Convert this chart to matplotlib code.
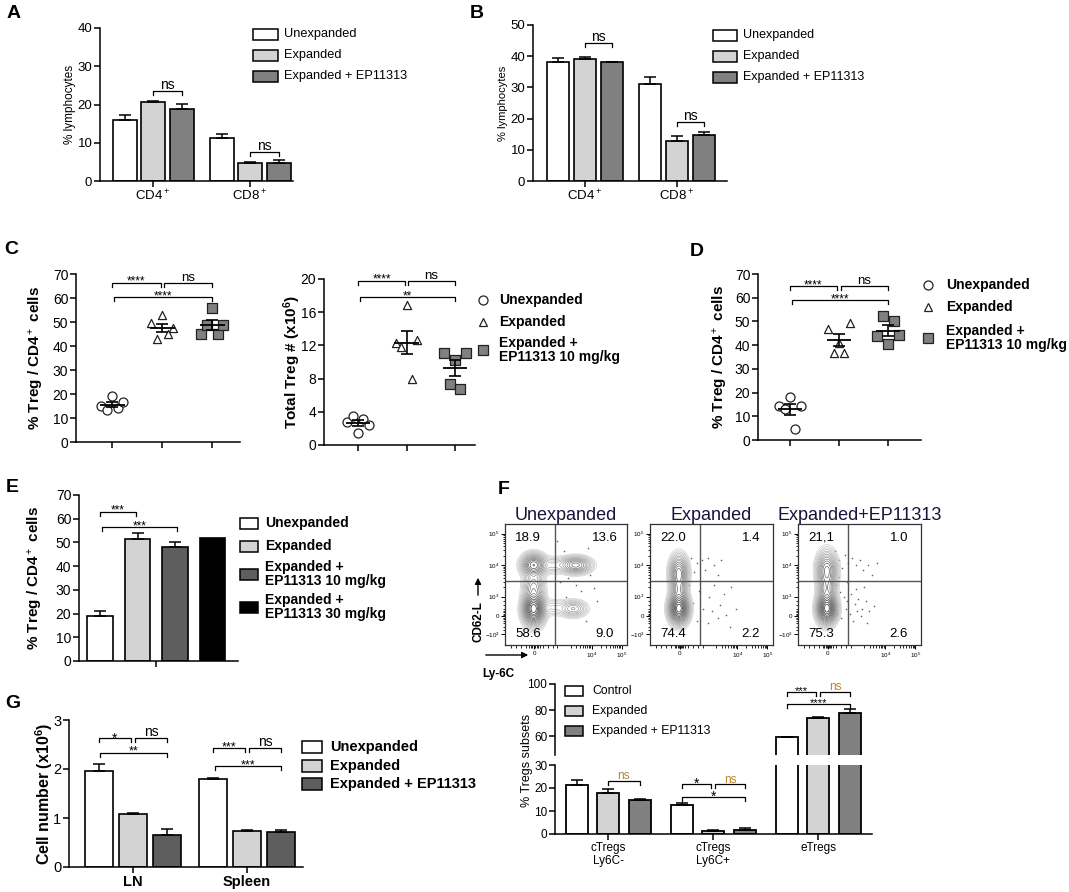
"""
Multi-panel Treg figure (A-G): bar charts, dot plots, flow contour panels.
"""
import numpy as np
import matplotlib
matplotlib.use("Agg")
import matplotlib.pyplot as plt
from matplotlib.patches import Rectangle

plt.rcParams["font.family"] = ["Liberation Sans", "DejaVu Sans"]
plt.rcParams["mathtext.fontset"] = "custom"
plt.rcParams["mathtext.rm"] = "Liberation Sans"
plt.rcParams["mathtext.bf"] = "Liberation Sans:bold"
plt.rcParams["mathtext.it"] = "Liberation Sans:italic"

W, H = 1069, 892

WHITE = "white"
LIGHT = "#d3d3d3"
MID = "#808080"
DARK = "#5e5e5e"
NS_COL = "#b8862b"

# ---------------- data ----------------
A_cats = ["CD4$^+$", "CD8$^+$"]
A_unexp = [16.0, 11.3]
A_unexp_sem = [1.2, 0.9]
A_exp = [20.7, 4.8]
A_exp_sem = [0.3, 0.2]
A_ep = [18.8, 4.8]
A_ep_sem = [1.3, 0.7]

B_cats = ["CD4$^+$", "CD8$^+$"]
B_unexp = [38.0, 31.2]
B_unexp_sem = [1.5, 2.2]
B_exp = [39.2, 12.8]
B_exp_sem = [0.6, 1.5]
B_ep = [38.0, 14.8]
B_ep_sem = [0.2, 0.8]

C_pct_unexp = [15.2, 13.3, 19.0, 14.0, 16.5]
C_pct_exp = [49.5, 43.0, 52.8, 45.0, 47.5]
C_pct_ep = [45.0, 48.6, 56.0, 45.0, 48.6]
C_tot_unexp = [2.8, 3.5, 1.5, 3.1, 2.4]
C_tot_exp = [12.3, 11.8, 16.9, 8.0, 12.6]
C_tot_ep = [11.1, 7.3, 10.2, 6.8, 11.1]

D_unexp = [14.5, 13.0, 18.3, 4.8, 14.3]
D_exp = [47.0, 36.5, 41.0, 36.5, 49.5]
D_ep = [43.7, 52.2, 40.3, 50.0, 44.4]

E_labels = ["Unexpanded", "Expanded", "Expanded +\nEP11313 10 mg/kg", "Expanded +\nEP11313 30 mg/kg"]
E_vals = [19.0, 51.3, 48.0, 52.0]
E_sem = [2.2, 2.7, 2.2, 0.0]

F_cats = ["cTregs\nLy6C-", "cTregs\nLy6C+", "eTregs"]
F_control = [21.3, 12.8, 59.0]
F_control_sem = [2.3, 0.5, 0.0]
F_exp = [17.8, 1.5, 74.1]
F_exp_sem = [1.8, 0.3, 0.8]
F_ep = [15.0, 1.6, 77.5]
F_ep_sem = [0.4, 0.8, 3.0]

G_cats = ["LN", "Spleen"]
G_unexp = [1.95, 1.79]
G_unexp_sem = [0.15, 0.02]
G_exp = [1.08, 0.74]
G_exp_sem = [0.02, 0.02]
G_ep = [0.66, 0.71]
G_ep_sem = [0.12, 0.04]

# flow panels: quadrant labels (UL, UR, LL, LR)
FLOW_TITLES = ["Unexpanded", "Expanded", "Expanded+EP11313"]
FLOW_QUAD_UNEXP = ["18.9", "13.6", "58.6", "9.0"]
FLOW_QUAD_EXP = ["22.0", "1.4", "74.4", "2.2"]
FLOW_QUAD_EP = ["21,1", "1.0", "75.3", "2.6"]
# population blobs (x, y, sx, sy, weight) in display fraction
CLUST_UNEXP = [(0.235, 0.30, 0.042, 0.065, 1.0), (0.235, 0.66, 0.048, 0.045, 0.55),
               (0.235, 0.48, 0.042, 0.065, 0.22), (0.58, 0.66, 0.062, 0.034, 0.35),
               (0.56, 0.30, 0.055, 0.034, 0.16), (0.40, 0.66, 0.070, 0.035, 0.07),
               (0.40, 0.31, 0.065, 0.035, 0.05)]
CLUST_EXP = [(0.235, 0.30, 0.038, 0.060, 1.0), (0.235, 0.60, 0.036, 0.070, 0.42),
             (0.235, 0.45, 0.034, 0.080, 0.26)]
CLUST_EP = [(0.235, 0.30, 0.038, 0.060, 1.0), (0.235, 0.62, 0.040, 0.075, 0.42),
            (0.235, 0.45, 0.036, 0.080, 0.26)]
DOTS_UNEXP_X = [0.48, 0.52, 0.62, 0.70, 0.75, 0.66, 0.45, 0.58, 0.43, 0.68, 0.50, 0.73]
DOTS_UNEXP_Y = [0.78, 0.55, 0.45, 0.58, 0.36, 0.20, 0.52, 0.50, 0.86, 0.80, 0.40, 0.47]
DOTS_EXP_X = [0.33, 0.38, 0.42, 0.47, 0.52, 0.58, 0.36, 0.45, 0.55, 0.40, 0.48, 0.60, 0.66,
              0.35, 0.43, 0.50, 0.57, 0.62, 0.70, 0.38, 0.47, 0.55, 0.65, 0.32, 0.52]
DOTS_EXP_Y = [0.72, 0.68, 0.70, 0.72, 0.66, 0.70, 0.60, 0.62, 0.58, 0.45, 0.40, 0.42, 0.48,
              0.35, 0.30, 0.28, 0.33, 0.25, 0.30, 0.20, 0.18, 0.22, 0.15, 0.50, 0.50]
DOTS_EP_X = [0.30, 0.33, 0.36, 0.38, 0.41, 0.44, 0.47, 0.50, 0.53, 0.57, 0.60, 0.64,
             0.31, 0.34, 0.37, 0.40, 0.43, 0.46, 0.49, 0.52, 0.55, 0.58, 0.62, 0.32,
             0.35, 0.39, 0.42, 0.45, 0.48, 0.51, 0.56, 0.33, 0.40, 0.47, 0.54]
DOTS_EP_Y = [0.78, 0.70, 0.64, 0.74, 0.68, 0.72, 0.66, 0.70, 0.62, 0.66, 0.58, 0.68,
             0.50, 0.44, 0.40, 0.36, 0.42, 0.34, 0.38, 0.30, 0.36, 0.28, 0.32, 0.26,
             0.22, 0.30, 0.26, 0.20, 0.28, 0.24, 0.18, 0.56, 0.52, 0.46, 0.48]


# ---------------- helpers ----------------
def px_axes(fig, l, t, r, b):
    return fig.add_axes([l / W, 1 - b / H, (r - l) / W, (b - t) / H])


def style(ax, fs=9.5):
    for s in ("top", "right"):
        ax.spines[s].set_visible(False)
    for s in ("left", "bottom"):
        ax.spines[s].set_linewidth(1.1)
    ax.tick_params(direction="out", length=4, width=1.1, labelsize=fs, pad=1.5)


def ylabel_at(ax, text, x_px, box, **kw):
    l, t, r, b = box
    ax.set_ylabel(text, va="center", **kw)
    ax.yaxis.set_label_coords((x_px - l) / (r - l), 0.5)


def grouped_bars(ax, series, sems, colors, offsets, width, lw=1.2):
    for vals, errs, c, off in zip(series, sems, colors, offsets):
        x = np.arange(len(vals)) + off
        ax.bar(x, vals, width, color=c, edgecolor="k", linewidth=lw, zorder=2)
        ax.errorbar(x, vals, yerr=[np.zeros(len(vals)), errs], fmt="none", ecolor="k",
                    elinewidth=1.1, capsize=4, capthick=1.1, zorder=3)


def bracket(ax, x1, x2, y, h, label, fs=8.5, color="k", off=1.0):
    ax.plot([x1, x1, x2, x2], [y - h, y, y, y - h], color="k", lw=0.9,
            clip_on=False, zorder=4)
    ax.annotate(label, ((x1 + x2) / 2, y), xytext=(0, off), textcoords="offset points",
                ha="center", va="baseline", fontsize=fs, color=color, annotation_clip=False)


def dot_panel(ax, groups, offsets, markers, faces, sizes):
    for i, (vals, m, fc, s) in enumerate(zip(groups, markers, faces, sizes)):
        v = np.array(vals)
        ax.scatter(i + np.array(offsets), v, marker=m, s=s, facecolor=fc, edgecolor="#222222",
                   linewidth=0.9, zorder=3, clip_on=False)
        mean = v.mean()
        sem = v.std(ddof=1) / np.sqrt(len(v))
        ax.hlines(mean, i - 0.25, i + 0.25, color="k", lw=1.3, zorder=4)
        ax.errorbar(i, mean, yerr=sem, fmt="none", ecolor="k", elinewidth=1.2,
                    capsize=4, capthick=1.2, zorder=4)


LEVELS = [0.008, 0.014, 0.022, 0.033, 0.048, 0.066, 0.09, 0.12, 0.155, 0.2,
          0.25, 0.31, 0.38, 0.46, 0.55, 0.65, 0.76, 0.88]
LEVEL_COLS = ["#d0d0d0", "#c8c8c8", "#c0c0c0", "#b8b8b8", "#b0b0b0", "#a6a6a6",
              "#9c9c9c", "#929292", "#888888", "#7e7e7e", "#747474", "#6a6a6a",
              "#606060", "#565656", "#4c4c4c", "#424242", "#383838", "#2e2e2e"]
GATE_X, GATE_Y = 0.41, 0.53


def flow_panel(ax, clusters, dx, dy, quads, title):
    g = np.linspace(0, 1, 260)
    X, Y = np.meshgrid(g, g)
    Z = np.zeros_like(X)
    for cx, cy, sx, sy, w in clusters:
        Z += w * np.exp(-((X - cx) ** 2 / (2 * sx ** 2) + (Y - cy) ** 2 / (2 * sy ** 2)))
    Z /= Z.max()
    ax.contour(X, Y, Z, levels=LEVELS, colors=LEVEL_COLS, linewidths=0.5)
    ax.scatter(dx, dy, s=1.4, color="#666666", lw=0)
    ax.axvline(GATE_X, color="#555555", lw=1.0)
    ax.axhline(GATE_Y, color="#555555", lw=1.0)
    for (tx, ty), q in zip([(0.19, 0.885), (0.82, 0.885), (0.19, 0.095), (0.82, 0.095)], quads):
        ax.text(tx, ty, q, ha="center", va="center", fontsize=9.5)
    ax.set_xlim(0, 1)
    ax.set_ylim(0, 1)
    for s in ax.spines.values():
        s.set_linewidth(0.9)
        s.set_color("#333333")
    dec = np.log10(np.arange(2, 10))
    ymin = list(0.40 + 0.26 * dec) + list(0.66 + 0.26 * dec) + list(np.arange(0.20, 0.29, 0.012)) \
        + [0.12, 0.15, 0.18, 0.30, 0.33, 0.36]
    ax.set_yticks([0.09, 0.24, 0.40, 0.66, 0.92])
    ax.set_yticklabels(["$-10^3$", "0", "$10^3$", "$10^4$", "$10^5$"])
    ax.set_yticks(ymin, minor=True)
    xmin = list(0.465 + 0.245 * dec) + list(0.71 + 0.245 * dec) + list(np.arange(0.20, 0.29, 0.012)) \
        + [0.05, 0.09, 0.13, 0.17, 0.31, 0.35, 0.39, 0.43]
    ax.set_xticks([0.24, 0.71, 0.955])
    ax.set_xticklabels(["0", "$10^4$", "$10^5$"])
    ax.set_xticks([x for x in xmin if x < 1], minor=True)
    ax.tick_params(which="major", length=3, width=0.7, labelsize=4.5, pad=1)
    ax.tick_params(which="minor", length=1.8, width=0.6)
    ax.set_title(title, fontsize=13, color="#14143c", pad=1)


fig = plt.figure(figsize=(W / 100, H / 100), dpi=100)

# ---------------- A ----------------
boxA = (100, 28, 293, 181)
axA = px_axes(fig, *boxA)
style(axA, 9.5)
grouped_bars(axA, [A_unexp, A_exp, A_ep], [A_unexp_sem, A_exp_sem, A_ep_sem],
             [WHITE, LIGHT, MID], [-0.29, 0.0, 0.3], 0.25)
axA.set_xlim(-0.546, 1.443)
axA.set_ylim(0, 40)
axA.set_yticks(range(0, 41, 10))
axA.set_xticks([0, 1])
axA.set_xticklabels(A_cats)
ylabel_at(axA, "% lymphocytes", 70, boxA, fontsize=8.5)
bracket(axA, 0.0, 0.3, 23.5, 1.05, "ns", fs=10, off=1.5)
bracket(axA, 1.0, 1.3, 7.6, 1.05, "ns", fs=10, off=1.5)

# ---------------- B ----------------
boxB = (533, 25, 727, 181)
axB = px_axes(fig, *boxB)
style(axB, 9.5)
grouped_bars(axB, [B_unexp, B_exp, B_ep], [B_unexp_sem, B_exp_sem, B_ep_sem],
             [WHITE, LIGHT, MID], [-0.29, 0.0, 0.29], 0.24)
axB.set_xlim(-0.565, 1.543)
axB.set_ylim(0, 50)
axB.set_yticks(range(0, 51, 10))
axB.set_xticks([0, 1])
axB.set_xticklabels(B_cats)
ylabel_at(axB, "% lymphocytes", 503, boxB, fontsize=8)
bracket(axB, 0.0, 0.29, 44.2, 1.3, "ns", fs=10, off=1.5)
bracket(axB, 1.0, 1.29, 18.9, 1.3, "ns", fs=10, off=1.5)

# ---------------- C ----------------
PT_OFF = [-0.22, -0.11, 0.0, 0.11, 0.22]
MARKERS = ["o", "^", "s"]
FACES = [WHITE, WHITE, MID]
SIZES = [42, 34, 48]

boxC1 = (76, 274, 240, 442)
axC1 = px_axes(fig, *boxC1)
style(axC1, 10)
dot_panel(axC1, [C_pct_unexp, C_pct_exp, C_pct_ep], PT_OFF, MARKERS, FACES, SIZES)
axC1.set_xlim(-0.72, 2.56)
axC1.set_ylim(0, 70)
axC1.set_yticks(range(0, 71, 10))
axC1.set_xticks([0, 1, 2])
axC1.set_xticklabels([])
ylabel_at(axC1, "% Treg / CD4$^+$ cells", 36, boxC1, fontsize=11, fontweight="bold")
bracket(axC1, 0.0, 0.97, 66.4, 1.7, "****", fs=8.5, off=-1.5)
bracket(axC1, 1.03, 2.0, 66.4, 1.7, "ns", fs=9.5, off=1.2)
bracket(axC1, 0.04, 2.0, 60.3, 1.7, "****", fs=8.5, off=-1.5)

boxC2 = (324, 279, 475, 445)
axC2 = px_axes(fig, *boxC2)
style(axC2, 10)
dot_panel(axC2, [C_tot_unexp, C_tot_exp, C_tot_ep], PT_OFF, MARKERS, FACES, SIZES)
axC2.set_xlim(-0.70, 2.41)
axC2.set_ylim(0, 20)
axC2.set_yticks(range(0, 21, 4))
axC2.set_xticks([0, 1, 2])
axC2.set_xticklabels([])
ylabel_at(axC2, "Total Treg # (x10$^{\\mathbf{6}}$)", 292, boxC2, fontsize=11, fontweight="bold")
bracket(axC2, 0.0, 0.97, 19.8, 0.48, "****", fs=8.5, off=-1.5)
bracket(axC2, 1.03, 2.0, 19.8, 0.48, "ns", fs=9.5, off=1.2)
bracket(axC2, 0.04, 2.0, 17.8, 0.48, "**", fs=8.5, off=-1.5)

# ---------------- D ----------------
boxD = (758, 274, 921, 440)
axD = px_axes(fig, *boxD)
style(axD, 10)
dot_panel(axD, [D_unexp, D_exp, D_ep], PT_OFF, MARKERS, FACES, SIZES)
axD.set_xlim(-0.65, 2.67)
axD.set_ylim(0, 70)
axD.set_yticks(range(0, 71, 10))
axD.set_xticks([0, 1, 2])
axD.set_xticklabels([])
ylabel_at(axD, "% Treg / CD4$^+$ cells", 720, boxD, fontsize=11, fontweight="bold")
bracket(axD, 0.0, 0.96, 65.0, 1.7, "****", fs=8.5, off=-1.5)
bracket(axD, 1.04, 2.0, 65.0, 1.7, "ns", fs=9.5, off=1.2)
bracket(axD, 0.04, 2.0, 58.9, 1.7, "****", fs=8.5, off=-1.5)

# ---------------- E ----------------
boxE = (79, 495, 238, 661)
axE = px_axes(fig, *boxE)
style(axE, 10)
xE = np.arange(len(E_vals))
axE.bar(xE, E_vals, 0.67, color=[WHITE, LIGHT, DARK, "black"], edgecolor="k", linewidth=1.2, zorder=2)
axE.errorbar(xE[:3], E_vals[:3], yerr=[np.zeros(3), E_sem[:3]], fmt="none", ecolor="k",
             elinewidth=1.1, capsize=4, capthick=1.1, zorder=3)
axE.set_xlim(-0.56, 3.68)
axE.set_ylim(0, 70)
axE.set_yticks(range(0, 71, 10))
axE.set_xticks([1.5])
axE.set_xticklabels([])
ylabel_at(axE, "% Treg / CD4$^+$ cells", 36, boxE, fontsize=11, fontweight="bold")
bracket(axE, 0.0, 0.95, 62.9, 1.7, "***", fs=8.5, off=-1.5)
bracket(axE, 0.05, 2.05, 56.5, 1.7, "***", fs=8.5, off=-1.5)

# ---------------- F flow ----------------
flow_boxes = [(505, 524, 627, 645), (650, 524, 773, 645), (798, 524, 921, 645)]
flow_data = [(CLUST_UNEXP, DOTS_UNEXP_X, DOTS_UNEXP_Y, FLOW_QUAD_UNEXP),
             (CLUST_EXP, DOTS_EXP_X, DOTS_EXP_Y, FLOW_QUAD_EXP),
             (CLUST_EP, DOTS_EP_X, DOTS_EP_Y, FLOW_QUAD_EP)]
for bx, (cl, dx, dy, q), title in zip(flow_boxes, flow_data, FLOW_TITLES):
    axf = px_axes(fig, *bx)
    flow_panel(axf, cl, dx, dy, q, title)

# ---------------- F bars (broken axis) ----------------
boxFu = (555, 684, 872, 755)
boxFl = (555, 765, 872, 834)
axFu = px_axes(fig, *boxFu)
axFl = px_axes(fig, *boxFl)
for ax in (axFu, axFl):
    style(ax, 8.5)
    grouped_bars(ax, [F_control, F_exp, F_ep], [F_control_sem, F_exp_sem, F_ep_sem],
                 [WHITE, LIGHT, MID], [-0.3, 0.0, 0.3], 0.21, lw=1.3)
    ax.set_xlim(-0.505, 2.51)
axFu.spines["bottom"].set_visible(False)
axFu.set_xticks([])
axFu.set_ylim(45.4, 100)
axFu.set_yticks([60, 80, 100])
axFl.set_ylim(0, 30)
axFl.set_yticks([0, 10, 20, 30])
axFl.set_xticks([0, 1, 2])
axFl.set_xticklabels(F_cats, fontsize=8.5, linespacing=1.1)
bracket(axFl, 0.0, 0.3, 23.2, 1.7, "ns", fs=8.5, color=NS_COL, off=1.0)
bracket(axFl, 0.7, 0.98, 21.7, 1.7, "*", fs=10, off=-3.0)
bracket(axFl, 1.02, 1.3, 21.7, 1.7, "ns", fs=8.5, color=NS_COL, off=1.0)
bracket(axFl, 0.7, 1.3, 16.2, 1.7, "*", fs=10, off=-3.0)
bracket(axFu, 1.7, 1.98, 94.0, 3.1, "***", fs=8, off=-1.5)
bracket(axFu, 2.02, 2.3, 94.0, 3.1, "ns", fs=8.5, color=NS_COL, off=1.0)
bracket(axFu, 1.7, 2.3, 85.0, 3.1, "****", fs=8, off=-1.5)

# ---------------- G ----------------
boxG = (69, 720, 303, 867)
axG = px_axes(fig, *boxG)
style(axG, 10.5)
grouped_bars(axG, [G_unexp, G_exp, G_ep], [G_unexp_sem, G_exp_sem, G_ep_sem],
             [WHITE, LIGHT, DARK], [-0.3, 0.0, 0.3], 0.245)
axG.set_xlim(-0.56, 1.49)
axG.set_ylim(0, 3)
axG.set_yticks([0, 1, 2, 3])
axG.set_xticks([0, 1])
axG.set_xticklabels(G_cats, fontweight="bold")
ylabel_at(axG, "Cell number (x10$^{\\mathbf{6}}$)", 44, boxG, fontsize=11.5, fontweight="bold")
bracket(axG, -0.3, -0.02, 2.63, 0.08, "*", fs=10, off=-3.0)
bracket(axG, 0.02, 0.3, 2.63, 0.08, "ns", fs=10, off=1.2)
bracket(axG, -0.29, 0.3, 2.33, 0.08, "**", fs=9, off=-1.5)
bracket(axG, 0.7, 0.98, 2.43, 0.08, "***", fs=9, off=-1.5)
bracket(axG, 1.02, 1.3, 2.43, 0.08, "ns", fs=10, off=1.2)
bracket(axG, 0.72, 1.3, 2.06, 0.08, "***", fs=9, off=-1.5)

# ---------------- overlay: letters, legends, flow axis labels ----------------
ov = fig.add_axes([0, 0, 1, 1])
ov.set_xlim(0, W)
ov.set_ylim(H, 0)
ov.axis("off")


def leg_patch(x, y, w, h, fc, label, fs, weight="normal", gap=6):
    ov.add_patch(Rectangle((x, y - h / 2), w, h, facecolor=fc, edgecolor="k", lw=1.1))
    ov.text(x + w + gap, y, label, fontsize=fs, fontweight=weight, va="center", ha="left",
            linespacing=1.05)


def leg_marker(x, y, m, fc, ms, label, tx, fs=10):
    ov.plot([x], [y], marker=m, ms=ms, mfc=fc, mec="#222222", mew=0.9, ls="none")
    ov.text(tx, y, label, fontsize=fs, fontweight="bold", va="center", ha="left", linespacing=1.05)


for letter, (lx, ly) in zip("ABCDEFG", [(14, 13), (477, 13), (11, 250), (697, 252),
                                         (12, 487), (504, 490), (13, 704)]):
    ov.text(lx, ly, letter, fontsize=14, fontweight="bold", ha="center", va="center")

ab_labels = ["Unexpanded", "Expanded", "Expanded + EP11313"]
for (y, fc, lab) in zip([34, 55, 76], [WHITE, LIGHT, MID], ab_labels):
    leg_patch(253, y, 25, 11, fc, lab, 9.2)
for (y, fc, lab) in zip([35, 56, 77], [WHITE, LIGHT, MID], ab_labels):
    leg_patch(713, y, 24, 11, fc, lab, 9.0)

cd_labels = ["Unexpanded", "Expanded", "Expanded +\nEP11313 10 mg/kg"]
for (y, m, fc, ms, lab) in zip([300, 322, 350], MARKERS, FACES, [6.5, 5.8, 7], cd_labels):
    leg_marker(483, y, m, fc, ms, lab, 499)
for (y, m, fc, ms, lab) in zip([285, 307, 338], MARKERS, FACES, [6.5, 5.8, 7], cd_labels):
    leg_marker(928, y, m, fc, ms, lab, 946)

for (y, fc, lab) in zip([523, 546, 574, 607], [WHITE, LIGHT, DARK, "black"], E_labels):
    leg_patch(240, y, 18, 11, fc, lab, 10, weight="bold", gap=7)

for (y, fc, lab) in zip([691, 711, 731], [WHITE, LIGHT, MID], ["Control", "Expanded", "Expanded + EP11313"]):
    leg_patch(565, y, 18, 10, fc, lab, 8.8, gap=9)

for (y, fc, lab) in zip([747, 766, 784], [WHITE, LIGHT, DARK], ab_labels):
    leg_patch(302, y, 20, 12, fc, lab, 10.5, weight="bold", gap=8)

ov.text(527, 760, "% Tregs subsets", rotation=90, fontsize=9, ha="center", va="center")

# flow axis annotations
ov.annotate("", xy=(531, 655), xytext=(483, 655),
            arrowprops=dict(arrowstyle="-|>", color="k", lw=1.0, mutation_scale=9))
ov.text(482, 674, "Ly-6C", fontsize=8.5, fontweight="bold", ha="left", va="center")
ov.annotate("", xy=(478, 575), xytext=(478, 598),
            arrowprops=dict(arrowstyle="-|>", color="k", lw=1.0, mutation_scale=9))
ov.text(478, 622, "CD62-L", rotation=90, fontsize=8.5, fontweight="bold", ha="center", va="center")

fig.savefig("out.png", dpi=100, facecolor="white")
plt.close(fig)
